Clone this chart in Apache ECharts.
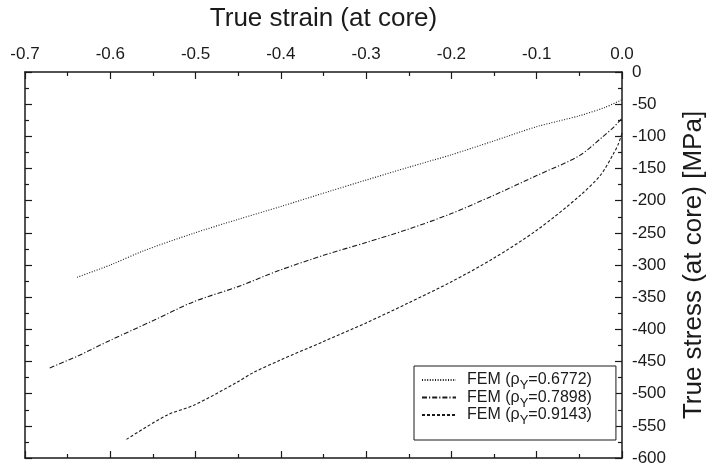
<!DOCTYPE html>
<html>
<head>
<meta charset="utf-8">
<script src="https://cdn.jsdelivr.net/npm/echarts@6/dist/echarts.min.js"></script>
<style>
  html, body { margin: 0; padding: 0; background: #fff; }
  #chart { width: 708px; height: 466px; }
</style>
</head>
<body>
<div id="chart"></div>
<script>
const RHO = ['0.6772', '0.7898', '0.9143'];
const X_TICKS = [-0.7, -0.6, -0.5, -0.4, -0.3, -0.2, -0.1, 0.0];
const Y_TICKS = [-600, -550, -500, -450, -400, -350, -300, -250, -200, -150, -100, -50, 0];

// strain, stress
const fem1 = [
    [-0.639, -319], [-0.600, -300], [-0.561, -278], [-0.503, -251], [-0.450, -229],
    [-0.400, -209], [-0.342, -185], [-0.300, -168], [-0.250, -148], [-0.201, -129],
    [-0.150, -107], [-0.100, -85], [-0.050, -68], [-0.020, -55], [0.000, -43]
];
const fem2 = [
    [-0.671, -460], [-0.639, -442], [-0.600, -417], [-0.549, -386], [-0.502, -357],
    [-0.451, -334], [-0.401, -308], [-0.350, -285], [-0.300, -265], [-0.252, -245],
    [-0.200, -220], [-0.151, -192], [-0.100, -161], [-0.050, -130], [-0.022, -100],
    [-0.010, -86], [0.000, -72]
];
const fem3 = [
    [-0.581, -571], [-0.533, -533], [-0.502, -518], [-0.451, -482], [-0.432, -467],
    [-0.401, -448], [-0.350, -419], [-0.300, -390], [-0.252, -360], [-0.200, -326],
    [-0.151, -290], [-0.100, -246], [-0.050, -193], [-0.025, -160], [-0.010, -127],
    [-0.004, -111], [0.000, -95]
];

const FONT = 'Liberation Sans, Arial, sans-serif';
const INK = '#1a1a1a';

const chart = echarts.init(document.getElementById('chart'));

function xAxisCfg(pos, labels) {
    return {
        type: 'value', position: pos,
        min: X_TICKS[0], max: X_TICKS[X_TICKS.length - 1], interval: 0.1,
        name: labels ? 'True strain (at core)' : '',
        nameLocation: 'middle', nameGap: 40,
        nameTextStyle: { fontFamily: FONT, fontSize: 26, color: INK },
        axisLine: { show: true, onZero: false, lineStyle: { color: INK, width: 1.5 } },
        axisTick: { show: true, inside: true, length: 7, lineStyle: { color: INK, width: 1.2 } },
        minorTick: { show: true, splitNumber: 2, length: 4, lineStyle: { color: INK, width: 1.2 } },
        axisLabel: {
            show: labels, margin: 9, fontFamily: FONT, fontSize: 17, color: INK,
            formatter: v => v.toFixed(1)
        },
        splitLine: { show: false }
    };
}

function yAxisCfg(pos, labels) {
    return {
        type: 'value', position: pos,
        min: Y_TICKS[0], max: Y_TICKS[Y_TICKS.length - 1], interval: 50,
        name: labels ? 'True stress (at core) [MPa]' : '',
        nameLocation: 'middle', nameGap: 59, nameRotate: 90,
        nameTextStyle: { fontFamily: FONT, fontSize: 26, color: INK },
        axisLine: { show: true, onZero: false, lineStyle: { color: INK, width: 1.5 } },
        axisTick: { show: true, inside: true, length: 7, lineStyle: { color: INK, width: 1.2 } },
        minorTick: { show: true, splitNumber: 2, length: 4, lineStyle: { color: INK, width: 1.2 } },
        axisLabel: { show: labels, margin: 10, fontFamily: FONT, fontSize: 17, color: INK, align: 'left' },
        splitLine: { show: false }
    };
}

const dashes = [[1, 1.6], [5, 2, 1.2, 2], [3, 2]];
const seriesData = [fem1, fem2, fem3];

chart.setOption({
    backgroundColor: '#fff',
    animation: false,
    grid: { left: 25, right: 86, top: 72, bottom: 8, outerBoundsMode: 'none', containLabel: false },
    xAxis: [xAxisCfg('top', true), xAxisCfg('bottom', false)],
    yAxis: [yAxisCfg('right', true), yAxisCfg('left', false)],
    legend: {
        orient: 'vertical', left: 414, top: 366,
        padding: [6, 24, 13, 7], itemGap: -2.5,
        itemWidth: 34, itemHeight: 10,
        backgroundColor: '#fff', borderColor: INK, borderWidth: 1,
        itemStyle: { opacity: 0 },
        formatter: name => {
            const v = name.split('=')[1].replace(')', '');
            return '{a|FEM (ρ}{s|Y}{a|=' + v + ')}';
        },
        textStyle: {
            padding: [0, 0, 0, 6],
            rich: {
                a: { fontFamily: FONT, fontSize: 16, color: INK, lineHeight: 16, verticalAlign: 'top' },
                s: { fontFamily: FONT, fontSize: 13, color: INK, lineHeight: 9, padding: [7, 0, 0, 0], verticalAlign: 'top' }
            }
        }
    },
    series: seriesData.map((d, i) => ({
        type: 'line',
        name: 'FEM (ρY=' + RHO[i] + ')',
        xAxisIndex: 0, yAxisIndex: 0,
        data: d,
        smooth: 0.3,
        symbol: 'none',
        itemStyle: { color: INK },
        lineStyle: { color: INK, width: 1.1, type: dashes[i] }
    }))
});
</script>
</body>
</html>
